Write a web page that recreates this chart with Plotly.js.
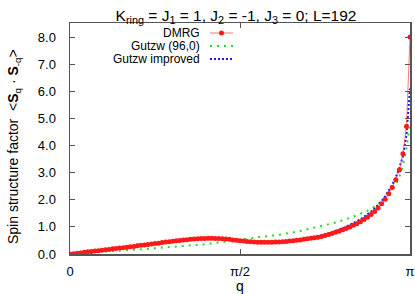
<!DOCTYPE html>
<html>
<head>
<meta charset="utf-8">
<script src="https://cdn.plot.ly/plotly-3.0.1.min.js"></script>
<style>html,body{margin:0;padding:0;background:#fff;}#chart{width:415px;height:294px;}</style>
</head>
<body>
<div id="chart"></div>
<script>
// L = 192 chain, q = 2*pi*k/L for k = 0..96
const L = 192;
const kIndex = [0,1,2,3,4,5,6,7,8,9,10,11,12,13,14,15,16,17,18,19,20,21,22,23,24,25,26,27,28,29,30,31,32,33,34,35,36,37,38,39,40,41,42,43,44,45,46,47,48,49,50,51,52,53,54,55,56,57,58,59,60,61,62,63,64,65,66,67,68,69,70,71,72,73,74,75,76,77,78,79,80,81,82,83,84,85,86,87,88,89,90,91,92,93,94,95,96];

const dmrg = [0.00,0.01,0.03,0.04,0.06,0.08,0.09,0.11,0.12,0.14,0.16,0.17,0.19,0.20,0.22,0.23,0.25,0.27,0.28,0.30,0.32,0.33,0.35,0.37,0.39,0.40,0.42,0.44,0.45,0.47,0.49,0.50,0.52,0.53,0.54,0.55,0.56,0.57,0.57,0.58,0.58,0.57,0.57,0.56,0.55,0.54,0.52,0.51,0.49,0.48,0.46,0.45,0.44,0.43,0.43,0.43,0.43,0.43,0.44,0.44,0.45,0.46,0.48,0.49,0.51,0.52,0.54,0.56,0.58,0.60,0.62,0.65,0.68,0.72,0.76,0.80,0.84,0.89,0.94,1.00,1.06,1.12,1.19,1.27,1.36,1.46,1.57,1.70,1.85,2.02,2.22,2.45,2.74,3.10,3.70,4.70,8.00];

const gutzw960 = [0.00,0.01,0.02,0.03,0.04,0.05,0.06,0.07,0.08,0.09,0.09,0.10,0.11,0.12,0.13,0.13,0.14,0.15,0.16,0.16,0.17,0.18,0.19,0.20,0.21,0.22,0.22,0.23,0.24,0.25,0.26,0.27,0.29,0.30,0.31,0.32,0.33,0.35,0.36,0.37,0.39,0.41,0.42,0.44,0.46,0.48,0.49,0.51,0.53,0.55,0.57,0.58,0.60,0.62,0.63,0.65,0.66,0.68,0.69,0.71,0.72,0.75,0.77,0.80,0.82,0.85,0.88,0.90,0.93,0.96,0.99,1.03,1.06,1.09,1.13,1.16,1.20,1.24,1.29,1.33,1.38,1.43,1.48,1.54,1.60,1.67,1.75,1.83,1.93,2.05,2.18,2.35,2.56,2.85,3.25,3.90,4.80];

const gutzwImproved = [0.00,0.01,0.03,0.04,0.06,0.08,0.09,0.11,0.12,0.14,0.16,0.17,0.19,0.20,0.22,0.23,0.25,0.27,0.28,0.30,0.32,0.33,0.35,0.37,0.39,0.40,0.42,0.44,0.45,0.47,0.49,0.50,0.52,0.53,0.54,0.55,0.56,0.57,0.57,0.58,0.58,0.57,0.57,0.56,0.55,0.54,0.52,0.51,0.49,0.48,0.46,0.45,0.44,0.43,0.43,0.43,0.43,0.44,0.44,0.45,0.46,0.47,0.49,0.50,0.52,0.54,0.56,0.58,0.60,0.63,0.65,0.69,0.72,0.76,0.81,0.85,0.90,0.95,1.01,1.07,1.13,1.20,1.28,1.37,1.46,1.56,1.68,1.81,1.96,2.13,2.33,2.56,2.84,3.18,3.60,4.40,6.10];

const xTickVals = [0, Math.PI/2, Math.PI];
const xTickText = ['0', '\u03c0/2', '\u03c0'];
const legendNames = ['DMRG', 'Gutzw (96,0)', 'Gutzw improved'];

const q = kIndex.map(k => 2*Math.PI*k/L);

const FONT = 'Liberation Sans, Arial, sans-serif';
const AX = '#555';

const traces = [
  {x: q, y: gutzw960, mode: 'lines', name: legendNames[1],
   line: {color: '#22dd22', width: 2, dash: '2px,5px'}},
  {x: q, y: gutzwImproved, mode: 'lines', name: legendNames[2],
   line: {color: '#1a1aee', width: 2, dash: '2px,2px'}},
  {x: q, y: dmrg, mode: 'lines+markers', name: legendNames[0],
   line: {color: 'rgba(255,60,60,0.7)', width: 1},
   marker: {color: '#ff1a1a', size: 5}}
];

// legend drawn gnuplot-style: right-aligned text, sample on the right
const lx0 = (210-70)/340, lx1 = (233-70)/340, ltx = (202-70)/340;
const ly = [(254-33)/231, (254-46)/231, (254-59)/231];
const shapes = [
  {type:'line', xref:'paper', yref:'paper', x0:lx0, x1:lx1, y0:ly[0], y1:ly[0], line:{color:'rgba(255,60,60,0.7)', width:1}},
  {type:'circle', xref:'paper', yref:'paper', xsizemode:'pixel', ysizemode:'pixel',
   xanchor:(lx0+lx1)/2, yanchor:ly[0], x0:-2.5, x1:2.5, y0:-2.5, y1:2.5, fillcolor:'#ff1a1a', line:{width:0}},
  {type:'line', xref:'paper', yref:'paper', x0:lx0, x1:lx1, y0:ly[1], y1:ly[1], line:{color:'#22dd22', width:2, dash:'2px,5px'}},
  {type:'line', xref:'paper', yref:'paper', x0:lx0, x1:lx1, y0:ly[2], y1:ly[2], line:{color:'#1a1aee', width:2, dash:'2px,2px'}}
];
const annotations = legendNames.map((n,i) => ({
  text: n, xref:'paper', yref:'paper', x: ltx, y: ly[i], xanchor:'right', yanchor:'middle',
  showarrow:false, font:{family:FONT, size:12, color:'#000'}
}));
// y-axis title, placed like the reference (slightly below plot-centre)
annotations.push({
  text: 'Spin structure factor  &lt;<b>S</b><sub>q</sub> \u00b7 <b>S</b><sub>-q</sub>&gt;',
  xref:'paper', yref:'paper', x: (14-70)/340, y: (254-147)/231, xanchor:'center', yanchor:'middle',
  textangle: -90, showarrow:false, font:{family:FONT, size:14, color:'#000'}
});

const layout = {
  width: 415, height: 294,
  margin: {l: 70, r: 5, t: 23, b: 40},
  paper_bgcolor: '#fff', plot_bgcolor: '#fff',
  showlegend: false,
  font: {family: FONT, size: 13, color: '#000'},
  title: {text: 'K<sub>ring</sub> = J<sub>1</sub> = 1, J<sub>2</sub> = -1, J<sub>3</sub> = 0; L=192',
          x: 236/415, xref: 'container', xanchor: 'center', y: 0.965, yref: 'container',
          font: {family: FONT, size: 15.5, color: '#000'}},
  xaxis: {range: [0, Math.PI], tickvals: xTickVals, ticktext: xTickText,
          ticks: 'inside', ticklen: 5, tickcolor: AX, showline: true, linecolor: AX, linewidth: 1.5,
          mirror: 'ticks', showgrid: false, zeroline: false, ticklabelstandoff: 5,
          title: {text: 'q', standoff: 19, font: {family: FONT, size: 14}}},
  yaxis: {range: [0, 8.52], dtick: 1, tick0: 0, tickformat: '.1f',
          ticks: 'inside', ticklen: 5, tickcolor: AX, showline: true, linecolor: AX, linewidth: 1.5,
          mirror: 'ticks', showgrid: false, zeroline: false, ticklabelstandoff: 10},
  shapes: shapes,
  annotations: annotations
};

Plotly.newPlot('chart', traces, layout, {displayModeBar: false, staticPlot: true});
</script>
</body>
</html>
